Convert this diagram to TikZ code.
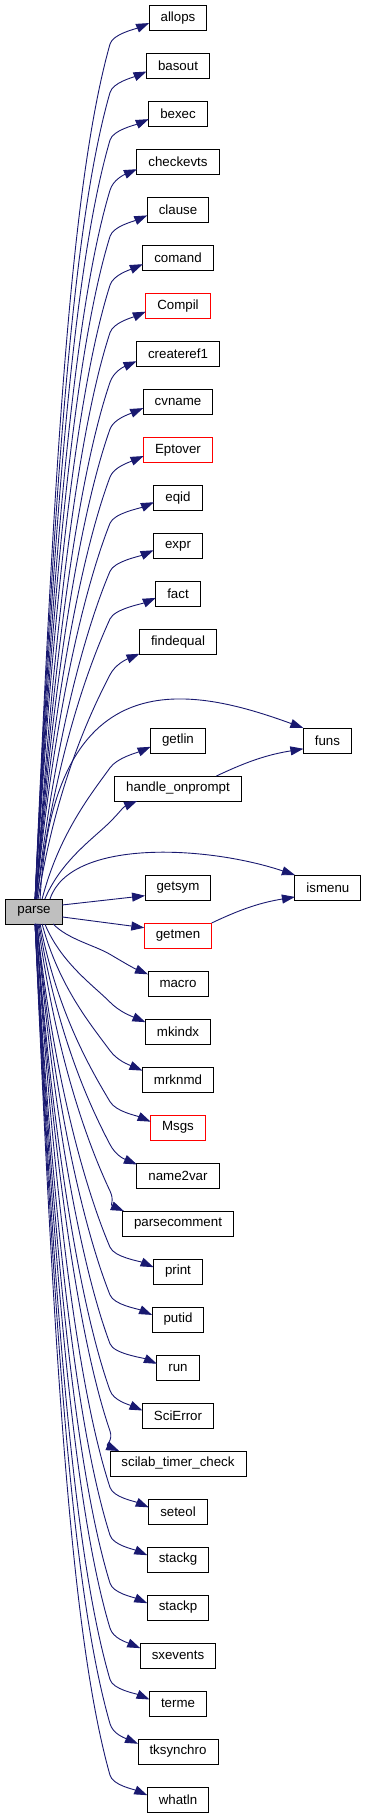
\documentclass[tikz,border=0pt]{standalone}
\usepackage{fontspec}
\setmainfont{Liberation Sans}
\usetikzlibrary{positioning,arrows.meta,calc}
\definecolor{midnight}{HTML}{191970}

\begin{document}
\begin{tikzpicture}[
  x=1pt,y=1pt,
  font=\fontsize{13.3}{16}\selectfont,
  node distance=23pt,
  fn/.style={rectangle,draw=black,line width=0.9pt,fill=white,outer sep=0pt,
             minimum height=25pt,inner xsep=11.5pt,inner ysep=2pt},
  fnred/.style={fn,draw=red},
  root/.style={fn,fill=black!25},
  arr/.style={-{Triangle[length=13pt,width=9pt]},line width=0.9pt,midnight},
  callup/.style={to path={let \p1=(\tikztostart), \p2=(\tikztotarget), \n1={\y2-21-\y1},
      \n2={10/(4+0.16*\n1)} in
    .. controls ({\x1+0.25*(110-\x1)},{\y1+0.5*\n1}) and ({96-0.03*\n1},{\y2-25-0.16*\n1}) .. (110,{\y2-21})
    .. controls ({110+\n2*(14+0.03*\n1)},{\y2-11}) and ({\x2-14},{\y2-6}) .. (\p2) \tikztonodes}},
  calldown/.style={to path={let \p1=(\tikztostart), \p2=(\tikztotarget), \n1={\y1-\y2-20},
      \n2={10/(4+0.16*\n1)} in
    .. controls ({\x1+0.25*(110-\x1)},{\y1-0.5*\n1}) and ({96-0.03*\n1},{\y2+24+0.16*\n1}) .. (110,{\y2+20})
    .. controls ({110+\n2*(14+0.03*\n1)},{\y2+10}) and ({\x2-14},{\y2+6}) .. (\p2) \tikztonodes}},
]
\useasboundingbox (0,0) rectangle (365,1815);

% ===== called functions, one column =====
\node[fn] (allops) at (178,1797) {allops};
\node[fn,below=of allops] (basout) {basout};
\node[fn,below=of basout] (bexec) {bexec};
\node[fn,below=of bexec] (checkevts) {checkevts};
\node[fn,below=of checkevts] (clause) {clause};
\node[fn,below=of clause] (comand) {comand};
\node[fnred,below=of comand] (Compil) {Compil};
\node[fn,below=of Compil] (createref1) {createref1};
\node[fn,below=of createref1] (cvname) {cvname};
\node[fnred,below=of cvname] (Eptover) {Eptover};
\node[fn,below=of Eptover] (eqid) {eqid};
\node[fn,below=of eqid] (expr) {expr};
\node[fn,below=of expr] (fact) {fact};
\node[fn,below=of fact] (findequal) {findequal};
\node[fn,below=73.5pt of findequal] (getlin) {getlin};
\node[fn,below=of getlin] (handleprompt) {handle\_onprompt};
\node[fn,below=74pt of handleprompt] (getsym) {getsym};
\node[fnred,below=of getsym] (getmen) {getmen};
\node[fn,below=of getmen] (macro) {macro};
\node[fn,below=of macro] (mkindx) {mkindx};
\node[fn,below=of mkindx] (mrknmd) {mrknmd};
\node[fnred,below=of mrknmd] (Msgs) {Msgs};
\node[fn,below=of Msgs] (name2var) {name2var};
\node[fn,below=of name2var] (parsecomment) {parsecomment};
\node[fn,below=of parsecomment] (print) {print};
\node[fn,below=of print] (putid) {putid};
\node[fn,below=of putid] (run) {run};
\node[fn,below=of run] (SciError) {SciError};
\node[fn,below=of SciError] (timercheck) {scilab\_timer\_check};
\node[fn,below=of timercheck] (seteol) {seteol};
\node[fn,below=of seteol] (stackg) {stackg};
\node[fn,below=of stackg] (stackp) {stackp};
\node[fn,below=of stackp] (sxevents) {sxevents};
\node[fn,below=of sxevents] (terme) {terme};
\node[fn,below=of terme] (tksynchro) {tksynchro};
\node[fn,below=of tksynchro] (whatln) {whatln};

% second level and caller
\node[fn,right=98pt of getlin] (funs) {funs};
\node[fn,right=84pt of getsym] (ismenu) {ismenu};
\node[root] (parse) at (34,903.5) {parse};

% ===== edges upwards =====
\draw[arr,callup] (parse.85) to (allops.190); \draw[arr,callup] (parse.85) to (basout.190);
\draw[arr,callup] (parse.85) to (bexec.190); \draw[arr,callup] (parse.85) to (checkevts.190);
\draw[arr,callup] (parse.85) to (clause.190); \draw[arr,callup] (parse.85) to (comand.190);
\draw[arr,callup] (parse.81) to (Compil.190); \draw[arr,callup] (parse.81) to (createref1.190);
\draw[arr,callup] (parse.81) to (cvname.190); \draw[arr,callup] (parse.81) to (Eptover.190);
\draw[arr,callup] (parse.81) to (eqid.190); \draw[arr,callup] (parse.77) to (expr.190);
\draw[arr,callup] (parse.77) to (fact.190); \draw[arr,callup] (parse.72) to (findequal.197);
\draw[arr,callup] (parse.57) to (getlin.193); \draw[arr,callup] (parse.49) to (handleprompt.197);
\draw[arr] (parse.64) .. controls +(13,244) and +(-110,40) .. (funs.north west);
\draw[arr] (parse.38) .. controls +(20,60) and +(-90,30) .. (ismenu.north west);
\draw[arr] (handleprompt.18) to[bend left=8] (funs.199);
\draw[arr] (getmen.north east) to[bend left=8] (ismenu.196);

% ===== edges sideways =====
\draw[arr] (parse.13) -- (getsym.194);
\draw[arr] (parse.-11) -- (getmen.167);

% ===== edges downwards =====
\draw[arr,calldown] (parse.-33) to (macro.163); \draw[arr,calldown] (parse.-49) to (mkindx.164);
\draw[arr,calldown] (parse.-57) to (mrknmd.166); \draw[arr,calldown] (parse.-64) to (Msgs.168);
\draw[arr,calldown] (parse.-68) to (name2var.165); \draw[arr,calldown] (parse.-72) to (parsecomment.167);
\draw[arr,calldown] (parse.-77) to (print.170); \draw[arr,calldown] (parse.-77) to (putid.170);
\draw[arr,calldown] (parse.-77) to (run.170); \draw[arr,calldown] (parse.-81) to (SciError.172);
\draw[arr,calldown] (parse.-81) to (timercheck.168); \draw[arr,calldown] (parse.-81) to (seteol.172);
\draw[arr,calldown] (parse.-85) to (stackg.172); \draw[arr,calldown] (parse.-85) to (stackp.172);
\draw[arr,calldown] (parse.-85) to (sxevents.169); \draw[arr,calldown] (parse.-85) to (terme.172);
\draw[arr,calldown] (parse.-85) to (tksynchro.169); \draw[arr,calldown] (parse.-85) to (whatln.172);
\end{tikzpicture}
\end{document}
